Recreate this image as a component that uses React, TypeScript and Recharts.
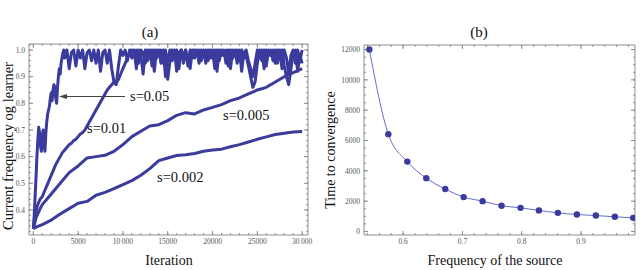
import React from 'react';
import { LineChart, Line, XAxis, YAxis } from 'recharts';

const FONT = "'Liberation Serif', 'Times New Roman', serif";
const COLOR = '#3b3b9d';
const LIGHT = '#6a6acf';
const FRAME = '#8c8c8c';

// ---------- Panel (a) ----------
const A_X_TICKS = [0, 5000, 10000, 15000, 20000, 25000, 30000];
const A_X_LABELS = ['0', '5000', '10\u2009000', '15000', '20000', '25000', '30\u2009000'];
const A_Y_TICKS = [0.4, 0.5, 0.6, 0.7, 0.8, 0.9, 1.0];
const A_Y_LABELS = ['0.4', '0.5', '0.6', '0.7', '0.8', '0.9', '1.0'];

const S002_ITER = [0, 500, 1000, 2000, 3000, 4000, 5000, 6000, 7000, 8000, 9000, 10000, 11000, 12000, 13000, 14000, 15000, 16000, 17000, 18000, 19000, 20000, 21000, 22000, 23000, 24000, 25000, 26000, 27000, 28000, 29000, 30000];
const S002_VAL = [0.33, 0.338, 0.345, 0.362, 0.385, 0.405, 0.425, 0.432, 0.455, 0.466, 0.48, 0.495, 0.51, 0.53, 0.555, 0.585, 0.595, 0.604, 0.607, 0.612, 0.62, 0.625, 0.628, 0.637, 0.645, 0.655, 0.665, 0.674, 0.683, 0.688, 0.692, 0.694];

const S005_ITER = [0, 300, 700, 1000, 1500, 2000, 3000, 4000, 5000, 6000, 7000, 8000, 9000, 10000, 11000, 12000, 13000, 14000, 15000, 16000, 17000, 18000, 19000, 20000, 21000, 22000, 23000, 24000, 25000, 26000, 27000, 28000, 29000, 30000];
const S005_VAL = [0.33, 0.37, 0.4, 0.42, 0.44, 0.46, 0.5, 0.54, 0.565, 0.595, 0.6, 0.605, 0.62, 0.645, 0.675, 0.695, 0.715, 0.72, 0.735, 0.755, 0.765, 0.76, 0.775, 0.785, 0.795, 0.81, 0.82, 0.835, 0.85, 0.86, 0.88, 0.9, 0.915, 0.93];

const S01_ITER = [0, 250, 500, 750, 1000, 1250, 1500, 1750, 2000, 2250, 2500, 2750, 3000, 3250, 3500, 3750, 4000, 4250, 4500, 4750, 5000, 5250, 5500, 5750, 6000, 6250, 6500, 6750, 7000, 7250, 7500, 7750, 8000, 8250, 8500, 8750, 9000, 9250, 9500, 9750, 10000, 10250, 10500, 10750, 11000, 11250, 11500, 11750, 12000, 12250, 12500, 12750, 13000, 13250, 13500, 13750, 14000, 14250, 14500, 14750, 15000, 15250, 15500, 15750, 16000, 16250, 16500, 16750, 17000, 17250, 17500, 17750, 18000, 18250, 18500, 18750, 19000, 19250, 19500, 19750, 20000, 20250, 20500, 20750, 21000, 21250, 21500, 21750, 22000, 22250, 22500, 22750, 23000, 23250, 23500, 23750, 24000, 24250, 24500, 24750, 25000, 25250, 25500, 25750, 26000, 26250, 26500, 26750, 27000, 27250, 27500, 27750, 28000, 28250, 28500, 28750, 29000, 29250, 29500, 29750, 30000];
const S01_VAL = [0.33, 0.39, 0.42, 0.44, 0.45, 0.47, 0.49, 0.51, 0.53, 0.55, 0.57, 0.585, 0.6, 0.615, 0.625, 0.635, 0.645, 0.65, 0.66, 0.665, 0.675, 0.685, 0.69, 0.7, 0.715, 0.73, 0.745, 0.76, 0.775, 0.79, 0.805, 0.82, 0.835, 0.85, 0.86, 0.87, 0.88, 0.875, 0.89, 0.91, 0.93, 0.95, 0.97, 0.99, 1.0, 0.98, 1.0, 0.95, 1.0, 0.99, 0.95, 1.0, 0.97, 1.0, 0.92, 1.0, 0.98, 1.0, 0.95, 1.0, 0.89, 0.96, 1.0, 0.97, 1.0, 0.93, 1.0, 0.98, 1.0, 0.96, 0.93, 1.0, 0.97, 1.0, 0.95, 1.0, 0.98, 1.0, 0.96, 1.0, 0.97, 1.0, 0.92, 1.0, 0.98, 1.0, 0.95, 1.0, 0.93, 1.0, 0.98, 1.0, 0.96, 1.0, 0.97, 0.98, 0.94, 0.9, 0.86, 0.88, 0.95, 1.0, 0.96, 1.0, 0.94, 1.0, 0.98, 1.0, 0.95, 1.0, 0.97, 1.0, 0.94, 0.9, 0.87, 0.93, 0.99, 1.0, 0.92, 0.98, 0.95];

const S05_ITER = [0, 100, 200, 300, 400, 500, 600, 700, 800, 900, 1000, 1100, 1200, 1300, 1400, 1500, 1600, 1800, 1900, 2000, 2100, 2200, 2300, 2400, 2500, 2600, 2700, 2800, 2900, 3000, 3100, 3200, 3300, 3400, 3500, 3750, 4000, 4250, 4500, 4750, 5000, 5250, 5500, 5750, 6000, 6250, 6500, 6750, 7000, 7250, 7500, 7750, 8000, 8250, 8500, 8750, 9000, 9250, 9500, 9750, 10000, 10250, 10500, 10750, 11000, 11250, 11500, 11750, 12000, 12250, 12500, 12750, 13000, 13250, 13500, 13750, 14000, 14250, 14500, 14750, 15000, 15250, 15500, 15750, 16000, 16250, 16500, 16750, 17000, 17250, 17500, 17750, 18000, 18250, 18500, 18750, 19000, 19250, 19500, 19750, 20000, 20250, 20500, 20750, 21000, 21250, 21500, 21750, 22000, 22250, 22500, 22750, 23000, 23250, 23500, 23750, 24000, 24250, 24500, 24750, 25000, 25250, 25500, 25750, 26000, 26250, 26500, 26750, 27000, 27250, 27500, 27750, 28000, 28250, 28500, 28750, 29000, 29250, 29500, 29750, 30000];
const S05_VAL = [0.33, 0.38, 0.45, 0.52, 0.6, 0.66, 0.71, 0.69, 0.64, 0.62, 0.68, 0.7, 0.64, 0.62, 0.69, 0.73, 0.76, 0.79, 0.82, 0.84, 0.81, 0.85, 0.87, 0.86, 0.82, 0.8, 0.86, 0.9, 0.93, 0.91, 0.95, 0.97, 0.99, 1.0, 0.97, 1.0, 0.93, 0.99, 1.0, 0.94, 1.0, 0.97, 1.0, 0.93, 0.99, 1.0, 0.96, 1.0, 0.95, 1.0, 0.92, 0.99, 1.0, 0.95, 1.0, 0.93, 0.88, 0.87, 0.94, 1.0, 0.98, 1.0, 0.96, 1.0, 0.97, 1.0, 0.93, 1.0, 0.98, 0.91, 1.0, 0.96, 1.0, 0.94, 1.0, 0.97, 1.0, 0.95, 1.0, 0.9, 0.97, 1.0, 0.96, 1.0, 0.92, 0.99, 1.0, 0.95, 1.0, 0.94, 1.0, 0.97, 1.0, 0.98, 1.0, 0.96, 1.0, 0.95, 1.0, 0.97, 1.0, 0.93, 1.0, 0.96, 1.0, 0.98, 1.0, 0.94, 1.0, 0.97, 1.0, 0.95, 1.0, 0.92, 0.99, 1.0, 0.96, 0.93, 0.9, 0.95, 1.0, 0.97, 1.0, 0.93, 1.0, 0.98, 1.0, 0.96, 1.0, 0.95, 1.0, 0.93, 1.0, 0.97, 0.91, 0.98, 1.0, 0.95, 1.0, 0.96, 1.0];

// ---------- Panel (b) ----------
const B_FREQ = [0.543, 0.575, 0.607, 0.639, 0.671, 0.702, 0.734, 0.766, 0.798, 0.829, 0.861, 0.893, 0.925, 0.957, 0.988];
const B_TIME = [12000, 6420, 4610, 3520, 2800, 2270, 2000, 1700, 1560, 1390, 1230, 1120, 1050, 970, 900];
const B_X_TICKS = [0.6, 0.7, 0.8, 0.9];
const B_X_LABELS = ['0.6', '0.7', '0.8', '0.9'];
const B_Y_TICKS = [0, 2000, 4000, 6000, 8000, 10000, 12000];
const B_Y_LABELS = ['0', '2000', '4000', '6000', '8000', '10000', '12000'];

const pts = (xs: number[], ys: number[]) => xs.map((t, i) => ({ t, v: ys[i] }));
const steps = (from: number, to: number, n: number, scale: number) => {
  const out: number[] = [];
  for (let k = from; k <= to; k += n) out.push(k / scale);
  return out;
};

const labelFrom = (ticks: number[], labels: string[]) => (v: number) => {
  const i = ticks.findIndex((t) => Math.abs(t - v) < 1e-9);
  return i >= 0 ? labels[i] : '';
};

const tickStyle = { fontSize: 7.5, fill: '#555', fontFamily: FONT };
const THIN = 0.01;

function frame(
  xDomain: [number, number], yDomain: [number, number],
  xMajor: number[], xMinor: number[], yMajor: number[], yMinor: number[],
  xFmt: (v: number) => string, yFmt: (v: number) => string
) {
  const common = { type: 'number' as const, allowDataOverflow: true, stroke: FRAME, interval: 0 as const };
  const blank = () => '';
  return [
    <XAxis key="x" xAxisId="x" dataKey="t" orientation="bottom" height={THIN} domain={xDomain} ticks={xMajor} tickFormatter={xFmt} tickSize={-4} tickMargin={8} tick={tickStyle} {...common} />,
    <XAxis key="xm" xAxisId="xm" dataKey="t" orientation="bottom" height={THIN} domain={xDomain} ticks={xMinor} tickFormatter={blank} tickSize={-2} axisLine={false} {...common} />,
    <XAxis key="xt" xAxisId="xt" dataKey="t" orientation="top" height={THIN} domain={xDomain} ticks={xMajor} tickFormatter={blank} tickSize={-4} {...common} />,
    <XAxis key="xtm" xAxisId="xtm" dataKey="t" orientation="top" height={THIN} domain={xDomain} ticks={xMinor} tickFormatter={blank} tickSize={-2} axisLine={false} {...common} />,
    <YAxis key="y" yAxisId="y" orientation="left" width={THIN} domain={yDomain} ticks={yMajor} tickFormatter={yFmt} tickSize={-4} tickMargin={8} tick={tickStyle} {...common} />,
    <YAxis key="ym" yAxisId="ym" orientation="left" width={THIN} domain={yDomain} ticks={yMinor} tickFormatter={blank} tickSize={-2} axisLine={false} {...common} />,
    <YAxis key="yr" yAxisId="yr" orientation="right" width={THIN} domain={yDomain} ticks={yMajor} tickFormatter={blank} tickSize={-4} {...common} />,
    <YAxis key="yrm" yAxisId="yrm" orientation="right" width={THIN} domain={yDomain} ticks={yMinor} tickFormatter={blank} tickSize={-2} axisLine={false} {...common} />,
  ];
}

const lineProps = {
  xAxisId: 'x', yAxisId: 'y', dataKey: 'v', dot: false, isAnimationActive: false,
  stroke: COLOR, strokeWidth: 3, type: 'linear' as const, strokeLinejoin: 'round' as const,
};

export default function App() {
  const aFrame = frame(
    [-480, 30650], [0.306, 1.0225],
    A_X_TICKS, steps(0, 30000, 1000, 1), A_Y_TICKS, steps(32, 102, 2, 100),
    labelFrom(A_X_TICKS, A_X_LABELS), labelFrom(A_Y_TICKS, A_Y_LABELS)
  );
  const bFrame = frame(
    [0.534, 0.991], [-230, 12300],
    B_X_TICKS, steps(54, 98, 2, 100), B_Y_TICKS, steps(0, 12000, 500, 1),
    labelFrom(B_X_TICKS, B_X_LABELS), labelFrom(B_Y_TICKS, B_Y_LABELS)
  );
  return (
    <div style={{ position: 'absolute', left: 0, top: 0, width: 640, height: 270, background: '#fff', fontFamily: FONT }}>
      <div style={{ position: 'absolute', left: 0, top: 0 }}>
        <LineChart width={320} height={270} margin={{ top: 44, right: 12, bottom: 35, left: 29 }}>
          {aFrame}
          <Line {...lineProps} data={pts(S002_ITER, S002_VAL)} />
          <Line {...lineProps} data={pts(S005_ITER, S005_VAL)} />
          <Line {...lineProps} data={pts(S01_ITER, S01_VAL)} />
          <Line {...lineProps} data={pts(S05_ITER, S05_VAL)} />
        </LineChart>
      </div>
      <div style={{ position: 'absolute', left: 320, top: 0 }}>
        <LineChart width={320} height={270} margin={{ top: 45, right: 5, bottom: 35, left: 44 }}>
          {bFrame}
          <Line
            xAxisId="x" yAxisId="y" dataKey="v" type="monotone" isAnimationActive={false}
            data={pts(B_FREQ, B_TIME)} stroke={LIGHT} strokeWidth={1}
            dot={{ r: 3.2, fill: COLOR, stroke: COLOR, strokeWidth: 0 }}
          />
        </LineChart>
      </div>
      <svg width={640} height={270} style={{ position: 'absolute', left: 0, top: 0, pointerEvents: 'none' }} fontFamily={FONT} fill="#111">
        <text x={150} y={37} textAnchor="middle" fontSize={15}>(a)</text>
        <text x={479} y={37} textAnchor="middle" fontSize={15}>(b)</text>
        <text x={169} y={265} textAnchor="middle" fontSize={14}>Iteration</text>
        <text x={495} y={265} textAnchor="middle" fontSize={14}>Frequency of the source</text>
        <text transform="translate(13,146) rotate(-90)" textAnchor="middle" fontSize={14.5}>Current frequency og learner</text>
        <text transform="translate(335,150) rotate(-90)" textAnchor="middle" fontSize={14}>Time to convergence</text>
        <text x={130} y={101} fontSize={14.5}>s=0.05</text>
        <text x={87} y={133} fontSize={14.5}>s=0.01</text>
        <text x={223} y={120} fontSize={14.5}>s=0.005</text>
        <text x={157} y={182} fontSize={14.5}>s=0.002</text>
        <line x1={66} y1={96.5} x2={125} y2={96.5} stroke="#444" strokeWidth={1} />
        <polygon points="59,96.5 67,94 67,99" fill="#444" />
      </svg>
    </div>
  );
}
